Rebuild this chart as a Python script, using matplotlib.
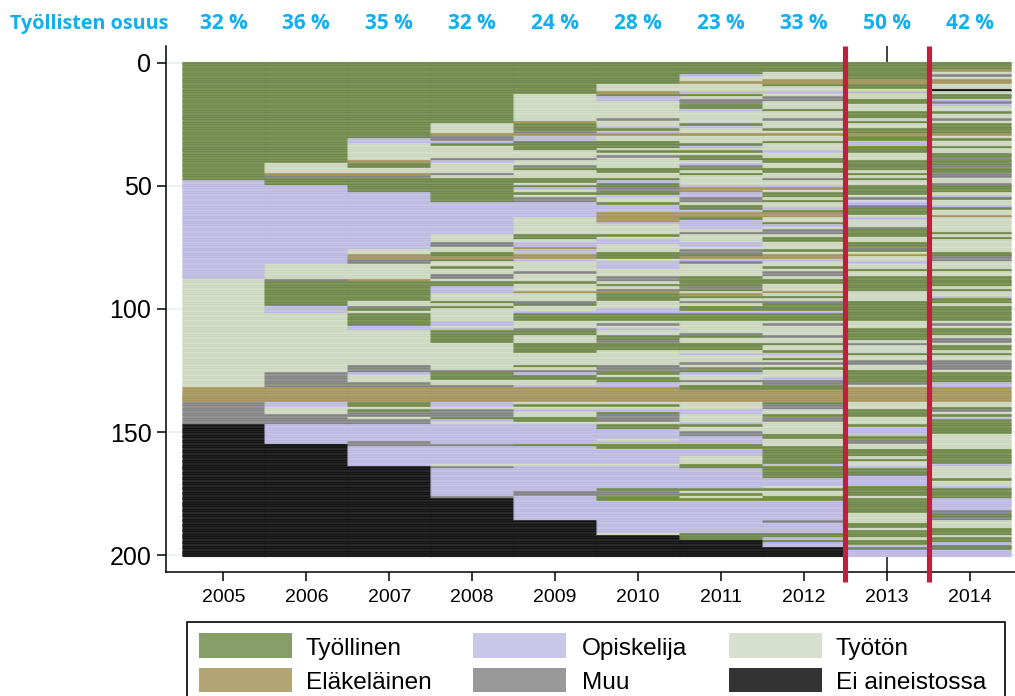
import matplotlib
matplotlib.use("Agg")
import matplotlib.pyplot as plt
from matplotlib.patches import Rectangle

W, H = 1015, 696
years = [2005, 2006, 2007, 2008, 2009, 2010, 2011, 2012, 2013, 2014]
shares = [32, 36, 35, 32, 24, 28, 23, 33, 50, 42]
share_title = "Työllisten osuus"
y_ticks = [0, 50, 100, 150, 200]

# state runs: letter + last row of the run
runs_2005 = "E48 S88 U132 P138 M147 N200"
runs_2006 = "E41 U45 P46 M47 E50 S82 U88 M89 E99 S102 U126 M132 P138 S140 U143 M147 S155 N200"
runs_2007 = ("E31 S33 U40 P41 E43 U45 P46 M47 E53 S76 U78 P80 M82 U88 P89 E97 U99 M100 E101 U102 E107 S109 U123 "
             "M126 S127 U130 M132 P138 E140 U141 E142 M144 U145 M147 S154 M156 S164 N200")
runs_2008 = ("E25 U29 P30 M32 S33 E34 U39 M40 S41 U45 M46 U47 E57 S70 U73 M75 U77 E79 P80 E81 U83 E84 U86 M88 U89 E91 "
             "S94 U97 E98 U99 E100 U105 S107 U108 S109 E114 U125 M126 E129 U131 M132 P138 S140 U141 M144 E145 S146 U147 "
             "S155 M156 S163 U164 M165 S176 M177 N200")
runs_2009 = ("E13 U24 P25 E28 M29 P30 S32 E36 U39 M40 U42 M43 E44 U47 E49 U50 E51 S52 U53 E54 U55 M57 S63 U70 E72 U73 S75 "
             "P76 S78 P80 S81 U85 M86 U89 E90 U93 P94 U97 M98 E99 U101 S102 E105 U108 M109 E111 U114 E118 U123 E124 U125 "
             "M126 S127 E129 U131 S132 P138 U139 E140 U141 S142 U144 E146 U147 S148 S155 E156 S163 U164 S174 M176 S186 N200")
runs_2010 = ("E9 U12 P13 E14 S16 U23 M24 U26 S27 E28 S29 P30 U32 E35 U36 E37 U38 M39 U43 E45 U47 E48 U48 S49 E51 M53 E54 S55 "
             "U57 E58 S61 P65 S66 U70 E71 U72 S74 U77 E80 U81 S84 U87 M89 U90 E91 U92 M93 P94 E97 U100 S102 E105 U106 M107 "
             "U108 S109 U111 E113 M114 E117 U118 U123 M126 E127 U128 E130 S132 P138 U139 E140 U141 S142 E143 M146 U147 E149 "
             "S153 U154 S155 E157 S163 U164 S173 E174 M176 E178 S191 U192 N200")
runs_2011 = ("E5 S6 U8 P9 U12 S13 E14 U15 M17 E19 S20 U25 E26 S27 U29 P30 U33 E34 S35 U36 E37 U38 E40 U41 S42 M43 E44 U45 "
             "E46 U50 S51 P53 S55 M57 U58 E60 S61 P63 E64 S65 S68 U69 M70 U73 S75 U76 M78 U78 E79 P80 S81 M82 U87 E91 M92 "
             "E93 U94 P95 E96 U97 M98 U99 E101 S102 E105 U110 M111 E112 U114 E117 U118 S119 U122 M123 U124 M125 E126 S127 U129 "
             "M130 U131 E133 P138 U141 S143 U146 S147 E148 U150 M152 S155 E157 S160 U163 E165 S173 E174 U175 E176 U177 E178 "
             "S191 E194 N200")
runs_2012 = ("E4 U7 P9 E10 U12 S13 U14 M16 U19 E20 U23 M24 U27 E28 U29 P30 U32 E33 U36 S37 U39 E41 U43 E45 U47 M48 U50 S51 "
             "P52 U53 E55 U56 E57 U59 S60 E61 P63 U65 E66 S67 U68 M70 U71 E73 U76 E77 U78 P80 S81 U83 E84 U85 M87 U88 E90 "
             "U93 P94 U95 E96 U97 M98 E101 S102 E105 U106 M107 U111 M112 U114 E115 U117 E118 S119 U120 E121 U122 M123 U124 "
             "E125 U128 S129 M131 E133 P138 E139 M141 U143 E144 M146 U151 E153 U155 U156 E163 S164 E169 S172 U173 E174 U176 "
             "E178 S186 M187 S191 E193 S194 E195 S197 N200")
runs_2013 = ("E7 P9 E11 U12 S13 U15 E17 U20 E23 U24 E25 U27 E29 P30 E32 S34 E37 U40 E44 U45 E46 U47 E48 U50 E53 S53 E54 U55 "
             "M56 U57 S58 M59 E62 U63 S64 U67 M68 E71 U73 E75 M76 E77 U78 P79 U81 S82 U84 E85 U87 E93 U97 E101 U100 E105 U108 "
             "E113 U114 M115 U118 E119 U121 M123 U125 E130 M131 U132 P138 U141 E144 U147 E148 S152 E153 M155 U157 E160 U161 "
             "E162 U164 S165 E168 S172 E176 U177 E183 U187 E189 U190 E193 U194 E196 S197 E198 S200")
runs_2014 = ("E3 P4 U5 M6 U7 P9 U11 N12 U13 E15 S16 M17 S18 U20 E21 U23 M24 U25 E29 P30 U31 E32 U34 E35 U37 E39 M40 E42 M43 "
             "E45 M47 U49 M50 E53 U54 S55 E56 U58 S59 E60 U62 P63 U69 E70 U71 E72 U77 E79 M81 U84 E85 U87 E91 U92 E93 U95 S96 "
             "E98 U99 E105 U106 M107 U108 E111 U112 M114 U115 E117 U118 E119 U121 M125 U126 E130 S132 P138 U140 E141 M142 U143 "
             "E144 S145 E151 U155 M155 U157 E163 S164 U169 E170 U172 S173 E177 S182 M183 E185 M186 U189 E192 U193 E195 S196 E198 S200")
year_runs = [runs_2005, runs_2006, runs_2007, runs_2008, runs_2009,
             runs_2010, runs_2011, runs_2012, runs_2013, runs_2014]

row_base = {"E": "#809858", "S": "#c7c4e7", "U": "#d6dfca", "P": "#b0a06c", "M": "#959595", "N": "#2b2b2b"}
row_core = {"E": "#708850", "S": "#bcb8df", "U": "#ccd6bf", "P": "#a4955e", "M": "#838383", "N": "#141414"}
legend_keys = [("E", "Työllinen", "#869f69"), ("S", "Opiskelija", "#c9c8e8"), ("U", "Työtön", "#d7dfcf"),
               ("P", "Eläkeläinen", "#b3a573"), ("M", "Muu", "#999999"), ("N", "Ei aineistossa", "#333333")]

plt.rcParams["font.family"] = ["Liberation Sans", "DejaVu Sans"]
fig = plt.figure(figsize=(W / 100, H / 100), dpi=100)
ax = fig.add_axes([166 / W, (H - 572) / H, (W - 166) / W, (572 - 46) / H])
ax.set_xlim(2004.307, 2014.548)
ax.set_ylim(206.7, -6.7)

ax.axvline(2013, color="#333333", lw=1.3, zorder=1)
ax.set_yticks(y_ticks)
ax.set_xticks(years)
ax.grid(axis="y", color="#e8f0f3", lw=1.2, zorder=0)
ax.set_axisbelow(True)


def to_rows(text):
    rows, start = [], 0
    for tok in text.split():
        end = int(tok[1:])
        rows.extend([tok[0]] * max(end - start, 0))
        start = max(start, end)
    return rows[:200]


for yr, txt in zip(years, year_runs):
    rows = to_rows(txt)
    centres = [i + 0.1 for i in range(len(rows))] + [199.75]
    rows = rows + [rows[-1]]
    # a wide base pass keeps rows solid, a narrow core pass gives the fine striping
    ax.hlines(centres, yr - 0.505, yr + 0.505, colors=[row_base[s] for s in rows],
              lw=2.3, capstyle="butt", zorder=2)
    ax.hlines(centres, yr - 0.505, yr + 0.505, colors=[row_core[s] for s in rows],
              lw=0.95, capstyle="butt", zorder=3)

for xv in (2012.5, 2013.51):
    ax.plot([xv, xv], [-6.9, 210.8], color="#c21f3f", lw=3.7, clip_on=False,
            solid_capstyle="butt", zorder=5)

for s in ("top", "right"):
    ax.spines[s].set_visible(False)
for s in ("left", "bottom"):
    ax.spines[s].set_linewidth(1.1)
ax.tick_params(axis="y", length=6.5, width=1.1, labelsize=18, pad=4)
ax.tick_params(axis="x", length=6.5, width=1.1, labelsize=14, pad=6)

blue = "#12aeef"
ty = 1 - 29 / H
fig.text(10 / W, ty, share_title, color=blue, fontsize=14.2, fontweight="bold",
         family="Open Sans", va="baseline", ha="left")
for yr, v in zip(years, shares):
    xd = ax.transData.transform((yr, 0))[0] / fig.bbox.width
    fig.text(xd, ty, f"{v} %", color=blue, fontsize=15, fontweight="bold",
             family="Open Sans", va="baseline", ha="center")

fig.add_artist(Rectangle((187 / W, -0.02), (1005 - 187) / W, 0.02 + (H - 622) / H, transform=fig.transFigure,
                         fill=False, ec="black", lw=1.2))
patch_x = [199, 473, 729]
text_x = [306, 582, 836]
row_y = [(633, 658), (668, 692)]
baselines = [655, 689]
for i, (_, label, col) in enumerate(legend_keys):
    c, r = i % 3, i // 3
    y0, y1 = row_y[r]
    fig.add_artist(Rectangle((patch_x[c] / W, 1 - y1 / H), 93 / W, (y1 - y0) / H,
                             transform=fig.transFigure, fc=col, ec="none"))
    fig.text(text_x[c] / W, 1 - baselines[r] / H, label, fontsize=17.6, va="baseline", ha="left", color="black")

fig.savefig("out.png", dpi=100)
